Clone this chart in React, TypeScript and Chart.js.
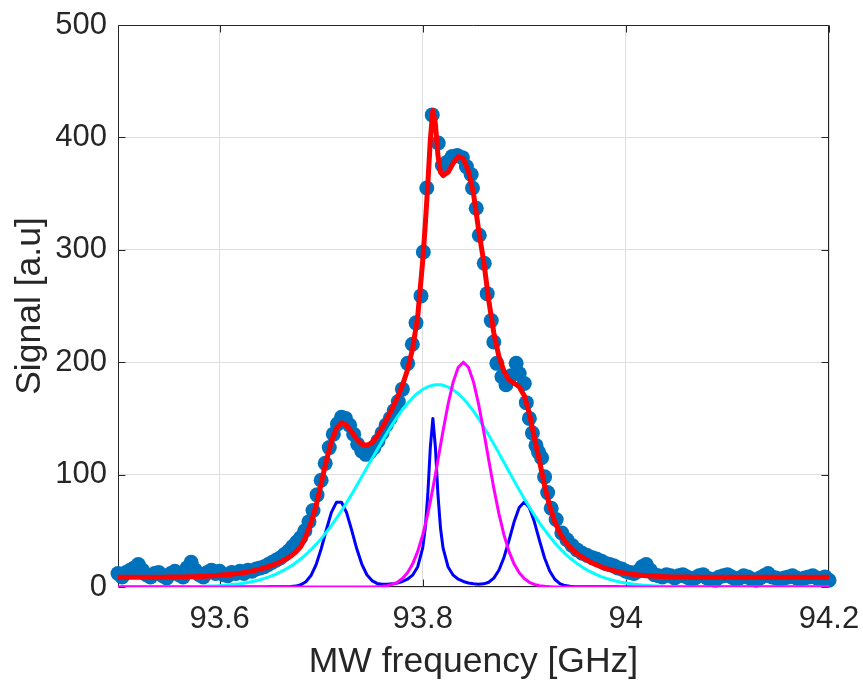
import React, { useEffect, useRef } from 'react';
import { Chart, registerables } from 'chart.js';

Chart.register(...registerables);

// ---------- measured data (blue dots) ----------
const dataFreq = [
  93.500, 93.504, 93.508, 93.512, 93.516, 93.520, 93.524, 93.528, 93.532, 93.536,
  93.540, 93.544, 93.548, 93.552, 93.556, 93.560, 93.564, 93.568, 93.572, 93.576,
  93.580, 93.584, 93.588, 93.592, 93.596, 93.600, 93.604, 93.608, 93.612, 93.616,
  93.620, 93.624, 93.628, 93.632, 93.636, 93.640, 93.644, 93.648, 93.652, 93.656,
  93.660, 93.664, 93.668, 93.672, 93.676, 93.680, 93.684, 93.688, 93.692, 93.696,
  93.700, 93.704, 93.708, 93.712, 93.716, 93.720, 93.724, 93.728, 93.732, 93.736,
  93.740, 93.744, 93.748, 93.752, 93.756, 93.760, 93.764, 93.768, 93.772, 93.776,
  93.780,
  93.7852, 93.7898, 93.7934, 93.7983, 93.8006, 93.8040, 93.8094, 93.8153, 93.8193, 93.8240,
  93.8290, 93.8340, 93.8390, 93.8430, 93.8477, 93.8490, 93.8527, 93.8557, 93.8606, 93.8635,
  93.8675, 93.8700, 93.8730, 93.8780, 93.8820, 93.8870, 93.8920, 93.8950, 93.9000, 93.9020,
  93.9050, 93.9080, 93.9115, 93.9140, 93.9170, 93.9200, 93.9230, 93.9265, 93.9314, 93.9370,
  93.9420, 93.9470, 93.9520, 93.9570, 93.9620, 93.9670, 93.9710, 93.9760, 93.9800, 93.9840,
  93.9880, 93.9920, 93.9960,
  94.000, 94.004, 94.008, 94.012, 94.016, 94.020, 94.024, 94.028, 94.032, 94.036,
  94.040, 94.044, 94.048, 94.052, 94.056, 94.060, 94.064, 94.068, 94.072, 94.076,
  94.080, 94.084, 94.088, 94.092, 94.096, 94.100, 94.104, 94.108, 94.112, 94.116,
  94.120, 94.124, 94.128, 94.132, 94.136, 94.140, 94.144, 94.148, 94.152, 94.156,
  94.160, 94.164, 94.168, 94.172, 94.176, 94.180, 94.184, 94.188, 94.192, 94.196,
  94.200,
];

const dataSignal = [
  12, 9, 13, 15, 17, 20, 15, 11, 9, 12,
  13, 10, 8, 12, 14, 11, 9, 17, 22, 15,
  11, 9, 13, 15, 12, 14, 11, 10, 13, 12,
  14, 12, 15, 14, 16, 17, 18, 20, 22, 24,
  26, 29, 32, 36, 40, 44, 50, 58, 68, 82,
  95, 110, 124, 136, 145, 151, 150, 144, 136, 127,
  121, 118, 120, 124, 130, 137, 144, 150, 157, 165,
  176,
  199, 216, 235, 259, 298, 355, 420, 395, 375, 378,
  383, 384, 382, 374, 367, 355, 337, 313, 288, 261,
  237, 218, 199, 187, 180, 188, 199, 190, 181, 164,
  150, 137, 126, 120, 115, 98, 84, 70, 60, 48,
  42, 37, 33, 30, 28, 26, 25, 23, 21, 20,
  19, 17, 16,
  14, 13, 12, 14, 18, 20, 15, 11, 10, 9,
  11, 10, 8, 10, 11, 9, 7, 8, 10, 11,
  8, 7, 6, 9, 10, 11, 9, 7, 8, 10,
  9, 7, 6, 8, 10, 12, 9, 8, 7, 8,
  9, 10, 8, 7, 8, 9, 10, 8, 7, 9,
  6,
];

// ---------- fitted curves ----------
const fitFreq = [
  93.500, 93.505, 93.510, 93.515, 93.520, 93.525, 93.530, 93.535, 93.540, 93.545,
  93.550, 93.555, 93.560, 93.565, 93.570, 93.575, 93.580, 93.585, 93.590, 93.595,
  93.600, 93.605, 93.610, 93.615, 93.620, 93.625, 93.630, 93.635, 93.640, 93.645,
  93.650, 93.655, 93.660, 93.665, 93.670, 93.675, 93.680, 93.685, 93.690, 93.695,
  93.700, 93.705, 93.710, 93.715, 93.720, 93.725, 93.730, 93.735, 93.740, 93.745,
  93.750, 93.755, 93.760, 93.765, 93.770, 93.775, 93.780, 93.785, 93.790, 93.795,
  93.800, 93.8025, 93.805, 93.8075, 93.810, 93.8125, 93.815, 93.8175,
  93.820, 93.825, 93.830, 93.835, 93.840, 93.845, 93.850, 93.855, 93.860, 93.865,
  93.870, 93.875, 93.880, 93.885, 93.890, 93.895, 93.900, 93.905, 93.910, 93.915,
  93.920, 93.925, 93.930, 93.935, 93.940, 93.945, 93.950, 93.955, 93.960, 93.965,
  93.970, 93.975, 93.980, 93.985, 93.990, 93.995, 94.000, 94.005, 94.010, 94.015,
  94.020, 94.025, 94.030, 94.035, 94.040, 94.045, 94.050, 94.055, 94.060, 94.065,
  94.070, 94.075, 94.080, 94.085, 94.090, 94.095, 94.100, 94.105, 94.110, 94.115,
  94.120, 94.125, 94.130, 94.135, 94.140, 94.145, 94.150, 94.155, 94.160, 94.165,
  94.170, 94.175, 94.180, 94.185, 94.190, 94.195, 94.200,
];

const fitTotal = [
  8.6, 8.6, 8.6, 8.6, 8.6, 8.6, 8.7, 8.7, 8.7, 8.7,
  8.8, 8.8, 8.9, 9.0, 9.1, 9.2, 9.4, 9.6, 9.8, 10.1,
  10.4, 10.8, 11.2, 11.7, 12.3, 13.0, 13.8, 14.8, 15.9, 17.2,
  18.7, 20.4, 22.3, 24.6, 27.4, 31.0, 36.0, 45.0, 57.0, 72.0,
  92.0, 112.0, 129.0, 141.0, 146.0, 144.0, 138.0, 131.5, 127.0, 126.0,
  128.5, 134.0, 141.5, 150.0, 159.0, 168.5, 179.5, 193.0, 212.0, 240.0,
  290.0, 322.0, 358.0, 398.0, 424.0, 412.0, 384.0, 369.0,
  366.0, 369.0, 377.0, 383.0, 381.0, 370.0, 350.0, 318.0, 290.0, 255.0,
  226.0, 205.0, 192.0, 184.2, 181.3, 178.2, 170.2, 154.4, 132.5, 112.0,
  90.0, 72.0, 58.0, 48.0, 40.5, 35.2, 31.0, 27.7, 24.8, 22.3,
  20.1, 18.2, 16.6, 15.2, 14.0, 13.0, 12.2, 11.5, 11.0, 10.5,
  10.1, 9.8, 9.5, 9.3, 9.2, 9.0, 8.9, 8.8, 8.8, 8.7,
  8.7, 8.6, 8.6, 8.6, 8.6, 8.6, 8.6, 8.6, 8.6, 8.6,
  8.6, 8.6, 8.6, 8.6, 8.6, 8.6, 8.6, 8.6, 8.6, 8.6,
  8.6, 8.6, 8.6, 8.6, 8.6, 8.6, 8.6,
];

const peaksBlue = [
  0.1, 0.1, 0.1, 0.1, 0.1, 0.1, 0.1, 0.1, 0.1, 0.1,
  0.1, 0.1, 0.1, 0.1, 0.1, 0.1, 0.1, 0.1, 0.1, 0.1,
  0.1, 0.1, 0.1, 0.1, 0.1, 0.1, 0.1, 0.1, 0.1, 0.1,
  0.2, 0.2, 0.2, 0.2, 0.4, 0.8, 2.0, 4.7, 10.2, 19.8,
  33.8, 50.5, 66.1, 75.3, 75.5, 66.3, 50.8, 34.2, 20.4, 10.9,
  5.7, 3.2, 2.4, 2.4, 2.8, 3.6, 4.9, 6.9, 10.5, 17.8,
  34.8, 52.5, 82.1, 124.3, 150.0, 124.3, 82.1, 52.5,
  34.8, 17.8, 10.5, 6.9, 4.9, 3.6, 2.9, 2.5, 2.8, 4.2,
  7.9, 14.9, 26.3, 41.6, 58.0, 70.7, 75.6, 70.6, 57.8, 41.2,
  25.8, 14.2, 6.9, 3.0, 1.3, 0.6, 0.3, 0.2, 0.2, 0.2,
  0.2, 0.2, 0.2, 0.2, 0.2, 0.1, 0.1, 0.1, 0.1, 0.1,
  0.1, 0.1, 0.1, 0.1, 0.1, 0.1, 0.1, 0.1, 0.1, 0.1,
  0.1, 0.1, 0.1, 0.1, 0.1, 0.1, 0.1, 0.1, 0.1, 0.1,
  0.1, 0.1, 0.1, 0.1, 0.1, 0.1, 0.1, 0.1, 0.1, 0.1,
  0.1, 0.1, 0.1, 0.1, 0.1, 0.1, 0.1,
];

const peakCyan = [
  0, 0, 0, 0, 0, 0, 0, 0, 0.1, 0.1,
  0.1, 0.1, 0.2, 0.2, 0.3, 0.4, 0.5, 0.6, 0.8, 1.0,
  1.2, 1.5, 1.9, 2.4, 2.9, 3.6, 4.4, 5.4, 6.5, 7.9,
  9.5, 11.3, 13.4, 15.8, 18.5, 21.6, 25.1, 28.9, 33.2, 37.9,
  43.0, 48.6, 54.6, 61.0, 67.8, 75.0, 82.4, 90.2, 98.2, 106.0,
  114.0, 121.8, 129.7, 137.3, 144.6, 151.4, 157.7, 163.3, 168.2, 172.4,
  175.7, 177.0, 178.1, 178.9, 179.5, 179.9, 180.0, 179.9,
  179.5, 177.9, 175.4, 171.9, 167.5, 162.3, 156.4, 149.8, 142.7, 135.1,
  127.2, 119.1, 110.9, 102.6, 94.4, 86.4, 78.6, 71.1, 63.9, 57.1,
  50.8, 44.9, 39.4, 34.4, 29.9, 25.8, 22.2, 19.0, 16.1, 13.6,
  11.4, 9.5, 7.9, 6.5, 5.3, 4.3, 3.5, 2.8, 2.3, 1.8,
  1.4, 1.1, 0.9, 0.7, 0.5, 0.4, 0.3, 0.2, 0.2, 0.1,
  0.1, 0.1, 0, 0, 0, 0, 0, 0, 0, 0,
  0, 0, 0, 0, 0, 0, 0, 0, 0, 0,
  0, 0, 0, 0, 0, 0, 0,
];

const peakMagenta = [
  0, 0, 0, 0, 0, 0, 0, 0, 0, 0,
  0, 0, 0, 0, 0, 0, 0, 0, 0, 0,
  0, 0, 0, 0, 0, 0, 0, 0, 0, 0,
  0, 0, 0, 0, 0, 0, 0, 0, 0, 0,
  0, 0, 0, 0, 0, 0, 0, 0, 0, 0,
  0.1, 0.3, 0.6, 1.2, 2.3, 4.2, 7.5, 12.6, 20.4, 31.5,
  46.4, 55.4, 65.3, 76.2, 87.9, 100.2, 113.0, 126.0,
  138.8, 162.8, 182.5, 195.5, 200.0, 195.5, 182.5, 162.8, 138.8, 113.0,
  87.9, 65.3, 46.4, 31.5, 20.4, 12.6, 7.5, 4.2, 2.3, 1.2,
  0.6, 0.3, 0.1, 0, 0, 0, 0, 0, 0, 0,
  0, 0, 0, 0, 0, 0, 0, 0, 0, 0,
  0, 0, 0, 0, 0, 0, 0, 0, 0, 0,
  0, 0, 0, 0, 0, 0, 0, 0, 0, 0,
  0, 0, 0, 0, 0, 0, 0, 0, 0, 0,
  0, 0, 0, 0, 0, 0, 0,
];

const xTickValues = [93.6, 93.8, 94, 94.2];
const yTickValues = [0, 100, 200, 300, 400, 500];

const FONT = "'Liberation Sans', Arial, Helvetica, sans-serif";
const AXIS_COLOR = '#262626';

const boxPlugin = {
  id: 'matlabBox',
  beforeDatasetsDraw(chart: any) {
    const { ctx, chartArea, scales } = chart;
    const { left, right, top, bottom } = chartArea;
    const L = Math.round(left) + 0.5;
    const R = Math.round(right) - 0.5;
    const T = Math.round(top) + 0.5;
    const B = Math.round(bottom) - 0.5;
    ctx.save();
    ctx.strokeStyle = AXIS_COLOR;
    ctx.lineWidth = 1;
    ctx.beginPath();
    ctx.rect(L, T, R - L, B - T);
    const tick = 7;
    xTickValues.forEach((v) => {
      const px = Math.round(scales.x.getPixelForValue(v)) + 0.5;
      ctx.moveTo(px, B);
      ctx.lineTo(px, B - tick);
      ctx.moveTo(px, T);
      ctx.lineTo(px, T + tick);
    });
    yTickValues.forEach((v) => {
      const py = Math.round(scales.y.getPixelForValue(v)) + 0.5;
      ctx.moveTo(L, py);
      ctx.lineTo(L + tick, py);
      ctx.moveTo(R, py);
      ctx.lineTo(R - tick, py);
    });
    ctx.stroke();
    ctx.restore();
  },
};

export default function App() {
  const ref = useRef<HTMLCanvasElement>(null);

  useEffect(() => {
    document.body.style.margin = '0';
    const canvas = ref.current;
    if (!canvas) return;

    const toPts = (xs: number[], ys: number[]) => xs.map((x, i) => ({ x, y: ys[i] }));

    const lineDs = (label: string, ys: number[], color: string, width: number, order: number) => ({
      label,
      data: toPts(fitFreq, ys),
      showLine: true,
      borderColor: color,
      backgroundColor: color,
      borderWidth: width,
      pointRadius: 0,
      pointHoverRadius: 0,
      tension: 0,
      borderJoinStyle: 'round' as const,
      borderCapStyle: 'round' as const,
      order,
    });

    const chart = new Chart(canvas, {
      type: 'scatter',
      data: {
        datasets: [
          lineDs('Total fit', fitTotal, '#ff0000', 5, 0),
          lineDs('Peak 3', peakMagenta, '#ff00ff', 3, 1),
          lineDs('Peak 2', peakCyan, '#00ffff', 3, 2),
          lineDs('Peak 1', peaksBlue, '#0000ff', 3, 3),
          {
            label: 'Data',
            data: toPts(dataFreq, dataSignal),
            showLine: false,
            pointRadius: 7.5,
            pointHoverRadius: 7.5,
            pointBorderWidth: 0,
            backgroundColor: '#0072bd',
            borderColor: '#0072bd',
            clip: false as any,
            order: 4,
          },
        ],
      },
      options: {
        responsive: false,
        animation: false,
        devicePixelRatio: 1,
        events: [],
        layout: { padding: { left: 0, right: 34, top: 25, bottom: 0 } },
        plugins: {
          legend: { display: false },
          tooltip: { enabled: false },
        },
        scales: {
          x: {
            type: 'linear',
            min: 93.5,
            max: 94.2,
            afterBuildTicks: (s: any) => {
              s.ticks = xTickValues.map((v) => ({ value: v }));
            },
            afterFit: (s: any) => {
              s.height = 97;
            },
            ticks: {
              autoSkip: false,
              maxRotation: 0,
              minRotation: 0,
              padding: 0,
              color: AXIS_COLOR,
              font: { family: FONT, size: 31 },
              callback: (v: any) => String(Math.round(Number(v) * 10) / 10),
            },
            grid: {
              color: '#dfdfdf',
              lineWidth: 1,
              drawTicks: true,
              tickLength: 14,
              tickColor: 'rgba(0,0,0,0)',
            },
            border: { display: false },
            title: {
              display: true,
              text: 'MW frequency [GHz]',
              color: AXIS_COLOR,
              font: { family: FONT, size: 35.5 },
              padding: { top: 0, bottom: 0 },
            },
          },
          y: {
            type: 'linear',
            min: 0,
            max: 500,
            afterBuildTicks: (s: any) => {
              s.ticks = yTickValues.map((v) => ({ value: v }));
            },
            afterFit: (s: any) => {
              s.width = 118;
            },
            ticks: {
              padding: 0,
              color: AXIS_COLOR,
              font: { family: FONT, size: 31 },
              callback: (v: any) => String(v),
            },
            grid: {
              color: '#dfdfdf',
              lineWidth: 1,
              drawTicks: true,
              tickLength: 11,
              tickColor: 'rgba(0,0,0,0)',
            },
            border: { display: false },
            title: {
              display: true,
              text: 'Signal [a.u]',
              color: AXIS_COLOR,
              font: { family: FONT, size: 35.5 },
              padding: { top: 9, bottom: 0 },
            },
          },
        },
      },
      plugins: [boxPlugin],
    } as any);

    return () => chart.destroy();
  }, []);

  return (
    <div style={{ width: 863, height: 684 }}>
      <canvas ref={ref} width={863} height={684} style={{ display: 'block' }} />
    </div>
  );
}
